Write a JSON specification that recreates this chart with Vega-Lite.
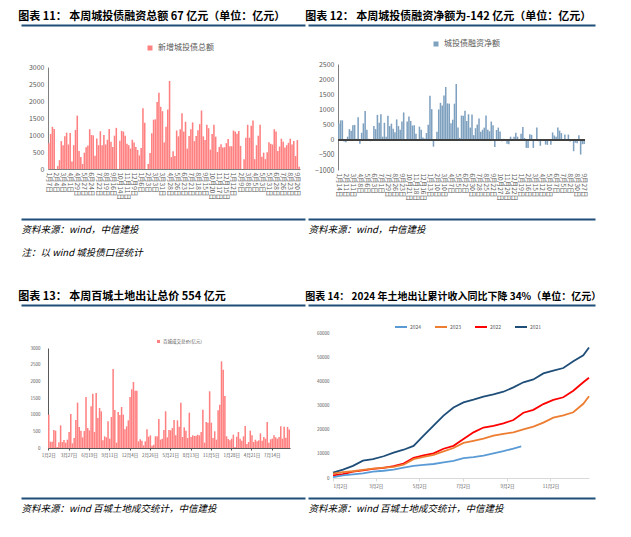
{
"$schema": "https://vega.github.io/schema/vega-lite/v6.json",
"background": "white",
"padding": {"left": 18, "top": 11, "right": 0, "bottom": 0},
"config": {
  "font": "Noto Sans CJK SC",
  "view": {"stroke": null},
  "axis": {"labelFont": "Noto Sans CJK SC", "titleFont": "Noto Sans CJK SC", "grid": false},
  "legend": {"labelFont": "Noto Sans CJK SC"},
  "title": {"anchor": "start", "fontSize": 11, "fontWeight": "bold", "font": "Noto Sans CJK SC", "color": "#000000", "offset": 3}
},
"resolve": {"scale": {"color": "independent"}, "legend": {"color": "independent"}},
"datasets": {
  "w": [
    {"d":"2022-01-07","a":760},
    {"d":"2022-01-14","a":1030,"b":530},
    {"d":"2022-01-21","a":1240,"b":640},
    {"d":"2022-01-28","a":1180,"b":640},
    {"d":"2022-02-04","a":0,"b":-60},
    {"d":"2022-02-11","a":90,"b":-80},
    {"d":"2022-02-18","a":260,"b":100},
    {"d":"2022-02-25","a":820,"b":350},
    {"d":"2022-03-04","a":700,"b":300},
    {"d":"2022-03-11","a":960,"b":480},
    {"d":"2022-03-18","a":1070,"b":490},
    {"d":"2022-03-25","a":720,"b":30},
    {"d":"2022-04-01","a":1060,"b":740},
    {"d":"2022-04-08","a":220,"b":-130},
    {"d":"2022-04-15","a":700,"b":230},
    {"d":"2022-04-22","a":1150,"b":540},
    {"d":"2022-04-29","a":1570,"b":950},
    {"d":"2022-05-06","a":530,"b":330},
    {"d":"2022-05-13","a":350,"b":30},
    {"d":"2022-05-20","a":150,"b":-50},
    {"d":"2022-05-27","a":480,"b":-40},
    {"d":"2022-06-03","a":640,"b":450},
    {"d":"2022-06-10","a":690,"b":350},
    {"d":"2022-06-17","a":1170,"b":820},
    {"d":"2022-06-24","a":1000,"b":560},
    {"d":"2022-07-01","a":990,"b":840},
    {"d":"2022-07-08","a":390,"b":100},
    {"d":"2022-07-15","a":900,"b":560},
    {"d":"2022-07-22","a":700,"b":100},
    {"d":"2022-07-29","a":1110,"b":790},
    {"d":"2022-08-05","a":700,"b":450},
    {"d":"2022-08-12","a":1000,"b":530},
    {"d":"2022-08-19","a":720,"b":360},
    {"d":"2022-08-26","a":860,"b":250},
    {"d":"2022-09-02","a":1180,"b":670},
    {"d":"2022-09-09","a":800,"b":450},
    {"d":"2022-09-16","a":650,"b":330},
    {"d":"2022-09-23","a":980,"b":600},
    {"d":"2022-09-30","a":1210,"b":900},
    {"d":"2022-10-07","a":0,"b":-20},
    {"d":"2022-10-14","a":830,"b":600},
    {"d":"2022-10-21","a":1120,"b":770},
    {"d":"2022-10-28","a":1100,"b":620},
    {"d":"2022-11-04","a":980,"b":470},
    {"d":"2022-11-11","a":740,"b":480},
    {"d":"2022-11-18","a":700,"b":200},
    {"d":"2022-11-25","a":600,"b":20},
    {"d":"2022-12-02","a":860,"b":430},
    {"d":"2022-12-09","a":780,"b":330},
    {"d":"2022-12-16","a":650,"b":70},
    {"d":"2022-12-23","a":560,"b":40},
    {"d":"2022-12-30","a":400,"b":220},
    {"d":"2023-01-06","a":620,"b":490},
    {"d":"2023-01-13","a":1790,"b":1450},
    {"d":"2023-01-20","a":1360,"b":1010},
    {"d":"2023-01-27","a":0,"b":-230},
    {"d":"2023-02-03","a":150,"b":20},
    {"d":"2023-02-10","a":470,"b":260},
    {"d":"2023-02-17","a":1050,"b":1000},
    {"d":"2023-02-24","a":1450,"b":1220},
    {"d":"2023-03-03","a":1460,"b":1130},
    {"d":"2023-03-10","a":1970,"b":1460},
    {"d":"2023-03-17","a":2240,"b":1740},
    {"d":"2023-03-24","a":1830,"b":1200},
    {"d":"2023-03-31","a":1700,"b":1190},
    {"d":"2023-04-07","a":780,"b":540},
    {"d":"2023-04-14","a":1240,"b":660},
    {"d":"2023-04-21","a":1750,"b":1190},
    {"d":"2023-04-28","a":2590,"b":1840},
    {"d":"2023-05-05","a":350,"b":400},
    {"d":"2023-05-12","a":520,"b":60},
    {"d":"2023-05-19","a":380,"b":800},
    {"d":"2023-05-26","a":1130,"b":790},
    {"d":"2023-06-02","a":960,"b":960},
    {"d":"2023-06-09","a":1170,"b":620},
    {"d":"2023-06-16","a":1640,"b":840},
    {"d":"2023-06-23","a":1100,"b":400},
    {"d":"2023-06-30","a":1390,"b":830},
    {"d":"2023-07-07","a":600,"b":150},
    {"d":"2023-07-14","a":970,"b":380},
    {"d":"2023-07-21","a":1170,"b":500},
    {"d":"2023-07-28","a":1370,"b":700},
    {"d":"2023-08-04","a":820,"b":260},
    {"d":"2023-08-11","a":970,"b":330},
    {"d":"2023-08-18","a":1140,"b":400},
    {"d":"2023-08-25","a":1320,"b":800},
    {"d":"2023-09-01","a":1720,"b":330},
    {"d":"2023-09-08","a":960,"b":280},
    {"d":"2023-09-15","a":850,"b":600},
    {"d":"2023-09-22","a":1300,"b":480},
    {"d":"2023-09-29","a":1200,"b":-240},
    {"d":"2023-10-13","a":570,"b":320},
    {"d":"2023-10-20","a":1030,"b":400},
    {"d":"2023-10-27","a":1300,"b":270},
    {"d":"2023-11-03","a":950,"b":-50},
    {"d":"2023-11-10","a":500,"b":30},
    {"d":"2023-11-17","a":650,"b":20},
    {"d":"2023-11-24","a":730,"b":-130},
    {"d":"2023-12-01","a":630,"b":-150},
    {"d":"2023-12-08","a":640,"b":100},
    {"d":"2023-12-15","a":760,"b":30},
    {"d":"2023-12-22","a":880,"b":100},
    {"d":"2023-12-29","a":670,"b":230},
    {"d":"2024-01-05","a":670,"b":100},
    {"d":"2024-01-12","a":1130,"b":20},
    {"d":"2024-01-19","a":1100,"b":200},
    {"d":"2024-01-26","a":1040,"b":420},
    {"d":"2024-02-02","a":1120,"b":60},
    {"d":"2024-02-09","a":680,"b":-270},
    {"d":"2024-02-16","a":0,"b":-270},
    {"d":"2024-02-23","a":290,"b":180},
    {"d":"2024-03-01","a":920,"b":160},
    {"d":"2024-03-08","a":1300,"b":-270},
    {"d":"2024-03-15","a":920,"b":20},
    {"d":"2024-03-22","a":1270,"b":400},
    {"d":"2024-03-29","a":1430,"b":-50},
    {"d":"2024-04-05","a":290,"b":-200},
    {"d":"2024-04-12","a":700,"b":0},
    {"d":"2024-04-19","a":980,"b":20},
    {"d":"2024-04-26","a":1300,"b":-160},
    {"d":"2024-05-03","a":360,"b":-170},
    {"d":"2024-05-10","a":480,"b":10},
    {"d":"2024-05-17","a":290,"b":-170},
    {"d":"2024-05-24","a":490,"b":240},
    {"d":"2024-05-31","a":790,"b":140},
    {"d":"2024-06-07","a":740,"b":100},
    {"d":"2024-06-14","a":720,"b":400},
    {"d":"2024-06-21","a":1170,"b":300},
    {"d":"2024-06-28","a":1100,"b":220},
    {"d":"2024-07-05","a":530,"b":20},
    {"d":"2024-07-12","a":660,"b":170},
    {"d":"2024-07-19","a":890,"b":10},
    {"d":"2024-07-26","a":800,"b":170},
    {"d":"2024-08-02","a":630,"b":-60},
    {"d":"2024-08-09","a":700,"b":20},
    {"d":"2024-08-16","a":770,"b":-380},
    {"d":"2024-08-23","a":890,"b":-100},
    {"d":"2024-08-30","a":720,"b":-120},
    {"d":"2024-09-06","a":820,"b":150},
    {"d":"2024-09-13","a":380,"b":-490},
    {"d":"2024-09-20","a":850,"b":-150},
    {"d":"2024-09-27","a":67,"b":-142}
  ],
  "land": [
    {"d":"2022-01-02","v":1000},{"d":"2022-01-09","v":190},{"d":"2022-01-16","v":190},{"d":"2022-01-23","v":540},{"d":"2022-01-30","v":520},
    {"d":"2022-02-06","v":30},{"d":"2022-02-13","v":170},{"d":"2022-02-20","v":680},{"d":"2022-02-27","v":180},{"d":"2022-03-06","v":240},
    {"d":"2022-03-13","v":160},{"d":"2022-03-20","v":250},{"d":"2022-03-27","v":480},{"d":"2022-04-03","v":1020},{"d":"2022-04-10","v":140},
    {"d":"2022-04-17","v":300},{"d":"2022-04-24","v":840},{"d":"2022-05-01","v":1360},{"d":"2022-05-08","v":630},{"d":"2022-05-15","v":520},
    {"d":"2022-05-22","v":320},{"d":"2022-05-29","v":510},{"d":"2022-06-05","v":1530},{"d":"2022-06-12","v":600},{"d":"2022-06-19","v":530},
    {"d":"2022-06-26","v":1250},{"d":"2022-07-03","v":1630},{"d":"2022-07-10","v":480},{"d":"2022-07-17","v":1650},{"d":"2022-07-24","v":900},
    {"d":"2022-07-31","v":1200},{"d":"2022-08-07","v":1100},{"d":"2022-08-14","v":230},{"d":"2022-08-21","v":350},{"d":"2022-08-28","v":320},
    {"d":"2022-09-04","v":800},{"d":"2022-09-11","v":280},{"d":"2022-09-18","v":930},{"d":"2022-09-25","v":2370},{"d":"2022-10-02","v":1140},
    {"d":"2022-10-09","v":160},{"d":"2022-10-16","v":1080},{"d":"2022-10-23","v":990},{"d":"2022-10-30","v":1230},{"d":"2022-11-06","v":1000},
    {"d":"2022-11-13","v":560},{"d":"2022-11-20","v":650},{"d":"2022-11-27","v":830},{"d":"2022-12-04","v":1530},{"d":"2022-12-11","v":1760},
    {"d":"2022-12-18","v":1980},{"d":"2022-12-25","v":1720},{"d":"2023-01-01","v":1720},{"d":"2023-01-08","v":200},{"d":"2023-01-15","v":260},
    {"d":"2023-01-22","v":220},{"d":"2023-01-29","v":80},{"d":"2023-02-05","v":200},{"d":"2023-02-12","v":560},{"d":"2023-02-19","v":340},
    {"d":"2023-02-26","v":380},{"d":"2023-03-05","v":70},{"d":"2023-03-12","v":100},{"d":"2023-03-19","v":350},{"d":"2023-03-26","v":350},
    {"d":"2023-04-02","v":870},{"d":"2023-04-09","v":250},{"d":"2023-04-16","v":280},{"d":"2023-04-23","v":540},{"d":"2023-04-30","v":1100},
    {"d":"2023-05-07","v":320},{"d":"2023-05-14","v":540},{"d":"2023-05-21","v":530},{"d":"2023-05-28","v":600},{"d":"2023-06-04","v":840},
    {"d":"2023-06-11","v":380},{"d":"2023-06-18","v":830},{"d":"2023-06-25","v":640},{"d":"2023-07-02","v":1360},{"d":"2023-07-09","v":330},
    {"d":"2023-07-16","v":620},{"d":"2023-07-23","v":520},{"d":"2023-07-30","v":300},{"d":"2023-08-06","v":1060},{"d":"2023-08-13","v":330},
    {"d":"2023-08-20","v":380},{"d":"2023-08-27","v":360},{"d":"2023-09-03","v":370},{"d":"2023-09-10","v":400},{"d":"2023-09-17","v":380},
    {"d":"2023-09-24","v":480},{"d":"2023-10-01","v":1150},{"d":"2023-10-08","v":160},{"d":"2023-10-15","v":780},{"d":"2023-10-22","v":760},
    {"d":"2023-10-29","v":1700},{"d":"2023-11-05","v":760},{"d":"2023-11-12","v":300},{"d":"2023-11-19","v":500},{"d":"2023-11-26","v":250},
    {"d":"2023-12-03","v":1130},{"d":"2023-12-10","v":1300},{"d":"2023-12-17","v":2600},{"d":"2023-12-24","v":2350},{"d":"2023-12-31","v":1560},
    {"d":"2024-01-07","v":350},{"d":"2024-01-14","v":270},{"d":"2024-01-21","v":230},{"d":"2024-01-28","v":280},{"d":"2024-02-04","v":400},
    {"d":"2024-02-11","v":30},{"d":"2024-02-18","v":340},{"d":"2024-02-25","v":480},{"d":"2024-03-03","v":280},{"d":"2024-03-10","v":220},
    {"d":"2024-03-17","v":350},{"d":"2024-03-24","v":660},{"d":"2024-03-31","v":120},{"d":"2024-04-07","v":180},{"d":"2024-04-14","v":520},
    {"d":"2024-04-21","v":380},{"d":"2024-04-28","v":180},{"d":"2024-05-05","v":250},{"d":"2024-05-12","v":200},{"d":"2024-05-19","v":230},
    {"d":"2024-05-26","v":440},{"d":"2024-06-02","v":220},{"d":"2024-06-09","v":330},{"d":"2024-06-16","v":280},{"d":"2024-06-23","v":780},
    {"d":"2024-06-30","v":160},{"d":"2024-07-07","v":260},{"d":"2024-07-14","v":280},{"d":"2024-07-21","v":380},{"d":"2024-07-28","v":320},
    {"d":"2024-08-04","v":280},{"d":"2024-08-11","v":330},{"d":"2024-08-18","v":650},{"d":"2024-08-25","v":280},{"d":"2024-09-01","v":640},
    {"d":"2024-09-08","v":310},{"d":"2024-09-15","v":630},{"d":"2024-09-22","v":554}
  ],
  "cum": [
    {"y":"2021","d":"2021-01-02","v":2200},{"y":"2021","d":"2021-01-16","v":3500},{"y":"2021","d":"2021-01-30","v":5000},{"y":"2021","d":"2021-02-13","v":7200},
    {"y":"2021","d":"2021-02-27","v":7800},{"y":"2021","d":"2021-03-13","v":9000},{"y":"2021","d":"2021-03-27","v":10500},{"y":"2021","d":"2021-04-10","v":11700},
    {"y":"2021","d":"2021-04-24","v":13300},{"y":"2021","d":"2021-05-08","v":17500},{"y":"2021","d":"2021-05-22","v":21700},{"y":"2021","d":"2021-06-05","v":25800},
    {"y":"2021","d":"2021-06-19","v":29200},{"y":"2021","d":"2021-07-03","v":31300},{"y":"2021","d":"2021-07-17","v":32400},{"y":"2021","d":"2021-07-31","v":33700},
    {"y":"2021","d":"2021-08-14","v":34600},{"y":"2021","d":"2021-08-28","v":35700},{"y":"2021","d":"2021-09-11","v":37500},{"y":"2021","d":"2021-09-25","v":39600},
    {"y":"2021","d":"2021-10-09","v":40800},{"y":"2021","d":"2021-10-23","v":43300},{"y":"2021","d":"2021-11-06","v":44400},{"y":"2021","d":"2021-11-20","v":45500},
    {"y":"2021","d":"2021-12-04","v":48300},{"y":"2021","d":"2021-12-18","v":50800},{"y":"2021","d":"2021-12-26","v":54000},
    {"y":"2022","d":"2022-01-02","v":1100},{"y":"2022","d":"2022-01-16","v":1600},{"y":"2022","d":"2022-01-30","v":2600},{"y":"2022","d":"2022-02-13","v":3200},
    {"y":"2022","d":"2022-02-27","v":3800},{"y":"2022","d":"2022-03-13","v":4200},{"y":"2022","d":"2022-03-27","v":4900},{"y":"2022","d":"2022-04-10","v":6000},
    {"y":"2022","d":"2022-04-24","v":8300},{"y":"2022","d":"2022-05-08","v":9400},{"y":"2022","d":"2022-05-22","v":10200},{"y":"2022","d":"2022-06-05","v":12100},
    {"y":"2022","d":"2022-06-19","v":13300},{"y":"2022","d":"2022-07-03","v":16100},{"y":"2022","d":"2022-07-17","v":18900},{"y":"2022","d":"2022-07-31","v":20900},
    {"y":"2022","d":"2022-08-14","v":21600},{"y":"2022","d":"2022-08-28","v":22600},{"y":"2022","d":"2022-09-11","v":24000},{"y":"2022","d":"2022-09-25","v":27000},
    {"y":"2022","d":"2022-10-09","v":28200},{"y":"2022","d":"2022-10-23","v":30600},{"y":"2022","d":"2022-11-06","v":32300},{"y":"2022","d":"2022-11-20","v":33400},
    {"y":"2022","d":"2022-12-04","v":36100},{"y":"2022","d":"2022-12-18","v":39600},{"y":"2022","d":"2022-12-26","v":41500},
    {"y":"2023","d":"2023-01-02","v":1800},{"y":"2023","d":"2023-01-16","v":2400},{"y":"2023","d":"2023-01-30","v":2800},{"y":"2023","d":"2023-02-13","v":3400},
    {"y":"2023","d":"2023-02-27","v":3900},{"y":"2023","d":"2023-03-13","v":4300},{"y":"2023","d":"2023-03-27","v":4600},{"y":"2023","d":"2023-04-10","v":5500},
    {"y":"2023","d":"2023-04-24","v":7800},{"y":"2023","d":"2023-05-08","v":8700},{"y":"2023","d":"2023-05-22","v":9600},{"y":"2023","d":"2023-06-05","v":11000},
    {"y":"2023","d":"2023-06-19","v":12400},{"y":"2023","d":"2023-07-03","v":14500},{"y":"2023","d":"2023-07-17","v":15400},{"y":"2023","d":"2023-07-31","v":16300},
    {"y":"2023","d":"2023-08-14","v":17500},{"y":"2023","d":"2023-08-28","v":18300},{"y":"2023","d":"2023-09-11","v":18900},{"y":"2023","d":"2023-09-25","v":20100},
    {"y":"2023","d":"2023-10-09","v":21300},{"y":"2023","d":"2023-10-23","v":22900},{"y":"2023","d":"2023-11-06","v":25000},{"y":"2023","d":"2023-11-20","v":25900},
    {"y":"2023","d":"2023-12-04","v":27200},{"y":"2023","d":"2023-12-18","v":30700},{"y":"2023","d":"2023-12-26","v":33800},
    {"y":"2024","d":"2024-01-02","v":400},{"y":"2024","d":"2024-01-16","v":1100},{"y":"2024","d":"2024-01-30","v":1500},{"y":"2024","d":"2024-02-13","v":1900},
    {"y":"2024","d":"2024-02-27","v":2600},{"y":"2024","d":"2024-03-13","v":3000},{"y":"2024","d":"2024-03-27","v":3500},{"y":"2024","d":"2024-04-10","v":4300},
    {"y":"2024","d":"2024-04-24","v":5000},{"y":"2024","d":"2024-05-08","v":5400},{"y":"2024","d":"2024-05-22","v":5800},{"y":"2024","d":"2024-06-05","v":6500},
    {"y":"2024","d":"2024-06-19","v":7100},{"y":"2024","d":"2024-07-03","v":8200},{"y":"2024","d":"2024-07-17","v":8600},{"y":"2024","d":"2024-07-31","v":9300},
    {"y":"2024","d":"2024-08-14","v":10200},{"y":"2024","d":"2024-08-28","v":11100},{"y":"2024","d":"2024-09-11","v":12200},{"y":"2024","d":"2024-09-22","v":13100}
  ]
},
"spacing": -27,
"hconcat": [
  {
    "spacing": 0,
    "bounds": "flush",
    "resolve": {"scale": {"color": "independent"}, "legend": {"color": "independent"}},
    "vconcat": [
      {
        "width": 252, "height": 42,
        "title": {"text": "图表 11：  本周城投债融资总额 67 亿元（单位：亿元）"},
        "data": {"values": [{"v": 0}]},
        "mark": {"type": "point", "opacity": 0},
        "encoding": {"x": {"field": "v", "type": "quantitative", "scale": {"domain": [0, 1], "range": [-27, 257]},
          "axis": {"orient": "top", "labels": false, "ticks": false, "grid": false, "title": null, "domainColor": "#1f4e79", "domainWidth": 2}}}
      },
      {
        "width": 252, "height": 102,
        "data": {"name": "w"},
        "mark": {"type": "bar"},
        "encoding": {
          "x": {"field": "d", "type": "ordinal", "scale": {"paddingInner": 0.12, "paddingOuter": 0.05},
            "axis": {"values": ["2022-01-07","2022-02-04","2022-03-04","2022-04-01","2022-04-29","2022-05-27","2022-06-24","2022-07-22","2022-08-19","2022-09-16","2022-10-14","2022-11-11","2022-12-09","2023-01-06","2023-02-03","2023-03-03","2023-03-31","2023-04-28","2023-05-26","2023-06-23","2023-07-21","2023-08-18","2023-09-15","2023-10-20","2023-11-17","2023-12-15","2024-01-12","2024-02-09","2024-03-08","2024-04-05","2024-05-03","2024-05-31","2024-06-28","2024-07-26","2024-08-23","2024-09-20"],
              "labelExpr": "utcFormat(toDate(datum.value), '%-m月%-d日')", "labelAngle": 90, "labelAlign": "left", "labelBaseline": "middle",
              "labelFontSize": 6.5, "labelColor": "#595959", "ticks": false, "domainColor": "#808080", "title": null, "labelPadding": 3}},
          "y": {"field": "a", "type": "quantitative", "scale": {"domain": [0, 3000]},
            "axis": {"values": [0, 500, 1000, 1500, 2000, 2500, 3000], "format": "d", "ticks": false, "labelFontSize": 7, "labelColor": "#595959", "domainColor": "#808080", "title": null, "labelPadding": 4}},
          "color": {"datum": "新增城投债总额", "type": "nominal", "scale": {"range": ["#ff8080"]},
            "legend": {"orient": "none", "legendX": 98, "legendY": -23, "title": null, "symbolType": "square", "symbolSize": 25, "labelFontSize": 8, "labelColor": "#595959"}}
        }
      },
      {
        "width": 252, "height": 50,
        "data": {"values": [{"v": 0}]},
        "mark": {"type": "point", "opacity": 0},
        "encoding": {"x": {"field": "v", "type": "quantitative", "scale": {"domain": [0, 1], "range": [-27, 257]},
          "axis": {"orient": "bottom", "labels": false, "ticks": false, "grid": false, "domainColor": "#1f4e79", "domainWidth": 2,
            "title": ["资料来源：wind，中信建投", "注：以 wind 城投债口径统计"], "titleAnchor": "start", "titleAlign": "left", "titleBaseline": "top",
            "titlePadding": 5, "titleFontSize": 9.5, "titleFontStyle": "italic", "titleFontWeight": "normal", "titleColor": "#000000", "titleLineHeight": 23}}}
      },
      {
        "width": 252, "height": 86,
        "data": {"values": [{"v": 0}]},
        "mark": {"type": "point", "opacity": 0},
        "encoding": {}
      },
      {
        "width": 252, "height": 43,
        "title": {"text": "图表 13：  本周百城土地出让总价 554 亿元"},
        "data": {"values": [{"v": 0}]},
        "mark": {"type": "point", "opacity": 0},
        "encoding": {"x": {"field": "v", "type": "quantitative", "scale": {"domain": [0, 1], "range": [-27, 257]},
          "axis": {"orient": "top", "labels": false, "ticks": false, "grid": false, "title": null, "domainColor": "#1f4e79", "domainWidth": 2}}}
      },
      {
        "width": 242, "height": 100,
        "data": {"name": "land"},
        "mark": {"type": "bar"},
        "encoding": {
          "x": {"field": "d", "type": "ordinal", "scale": {"paddingInner": 0.1, "paddingOuter": 0},
            "axis": {"values": ["2022-01-02","2022-03-27","2022-06-19","2022-09-11","2022-12-04","2023-02-26","2023-05-21","2023-08-13","2023-11-05","2024-01-28","2024-04-21","2024-07-14"],
              "labelExpr": "utcFormat(toDate(datum.value), '%-m月%-d日')", "labelAngle": 0, "labelFontSize": 4.5, "labelColor": "#595959",
              "ticks": true, "tickSize": 2, "tickColor": "#595959", "domainColor": "#595959", "title": null, "labelPadding": 2}},
          "y": {"field": "v", "type": "quantitative", "scale": {"domain": [0, 3000]},
            "axis": {"values": [0, 500, 1000, 1500, 2000, 2500, 3000], "format": "d", "ticks": false, "labelFontSize": 4.5, "labelColor": "#595959", "domainColor": "#595959", "title": null, "labelPadding": 8}},
          "color": {"datum": "百城成交总价(亿元)", "type": "nominal", "scale": {"range": ["#ff8080"]},
            "legend": {"orient": "none", "legendX": 108, "legendY": -9, "title": null, "symbolType": "square", "symbolSize": 9, "labelFontSize": 4.5, "labelColor": "#595959", "labelOffset": 2}}
        }
      },
      {
        "width": 252, "height": 50,
        "data": {"values": [{"v": 0}]},
        "mark": {"type": "point", "opacity": 0},
        "encoding": {"x": {"field": "v", "type": "quantitative", "scale": {"domain": [0, 1], "range": [-27, 257]},
          "axis": {"orient": "bottom", "labels": false, "ticks": false, "grid": false, "domainColor": "#1f4e79", "domainWidth": 2,
            "title": "资料来源：wind 百城土地成交统计，中信建投", "titleAnchor": "start", "titleAlign": "left", "titleBaseline": "top",
            "titlePadding": 5, "titleFontSize": 9.5, "titleFontStyle": "italic", "titleFontWeight": "normal", "titleColor": "#000000"}}}
      }
    ]
  },
  {
    "spacing": 0,
    "bounds": "flush",
    "resolve": {"scale": {"color": "independent"}, "legend": {"color": "independent"}},
    "vconcat": [
      {
        "width": 247, "height": 39,
        "title": {"text": "图表 12：  本周城投债融资净额为-142 亿元（单位：亿元）"},
        "data": {"values": [{"v": 0}]},
        "mark": {"type": "point", "opacity": 0},
        "encoding": {"x": {"field": "v", "type": "quantitative", "scale": {"domain": [0, 1], "range": [-30, 257]},
          "axis": {"orient": "top", "labels": false, "ticks": false, "grid": false, "title": null, "domainColor": "#1f4e79", "domainWidth": 2}}}
      },
      {
        "width": 247, "height": 106,
        "data": {"name": "w"},
        "transform": [{"filter": "isValid(datum.b)"}],
        "encoding": {
          "y": {"field": "b", "type": "quantitative", "scale": {"domain": [-1000, 2500]},
            "axis": {"values": [-1000, -500, 0, 500, 1000, 1500, 2000, 2500], "format": "d", "ticks": false, "labelFontSize": 7, "labelColor": "#595959", "domainColor": "#808080", "title": null, "labelPadding": 4}}
        },
        "layer": [
          {
            "mark": {"type": "bar"},
            "encoding": {
              "x": {"field": "d", "type": "ordinal", "scale": {"paddingInner": 0.12, "paddingOuter": 0.05},
                "axis": {"values": ["2022-01-14","2022-02-11","2022-03-11","2022-04-08","2022-05-06","2022-06-03","2022-07-01","2022-07-29","2022-08-26","2022-09-23","2022-10-21","2022-11-18","2022-12-16","2023-01-13","2023-02-10","2023-03-10","2023-04-07","2023-05-05","2023-06-02","2023-06-30","2023-07-28","2023-08-25","2023-09-22","2023-10-27","2023-11-24","2023-12-22","2024-01-19","2024-02-16","2024-03-15","2024-04-12","2024-05-10","2024-06-07","2024-07-05","2024-08-02","2024-08-30","2024-09-27"],
                  "labelExpr": "utcFormat(toDate(datum.value), '%-m月%-d日')", "labelAngle": 90, "labelAlign": "left", "labelBaseline": "middle",
                  "labelFontSize": 6.5, "labelColor": "#595959", "ticks": false, "domain": false, "title": null, "labelPadding": 3}},
              "color": {"datum": "城投债融资净额", "type": "nominal", "scale": {"range": ["#7fa1c0"]},
                "legend": {"orient": "none", "legendX": 94, "legendY": -24, "title": null, "symbolType": "square", "symbolSize": 25, "labelFontSize": 8, "labelColor": "#595959"}}
            }
          },
          {
            "mark": {"type": "rule", "color": "#404040", "strokeWidth": 1},
            "encoding": {"y": {"datum": 0, "type": "quantitative"}}
          }
        ]
      },
      {
        "width": 247, "height": 49,
        "data": {"values": [{"v": 0}]},
        "mark": {"type": "point", "opacity": 0},
        "encoding": {"x": {"field": "v", "type": "quantitative", "scale": {"domain": [0, 1], "range": [-30, 257]},
          "axis": {"orient": "bottom", "labels": false, "ticks": false, "grid": false, "domainColor": "#1f4e79", "domainWidth": 2,
            "title": "资料来源：wind，中信建投", "titleAnchor": "start", "titleAlign": "left", "titleBaseline": "top",
            "titlePadding": 5, "titleFontSize": 9.5, "titleFontStyle": "italic", "titleFontWeight": "normal", "titleColor": "#000000"}}}
      },
      {
        "width": 247, "height": 86,
        "data": {"values": [{"v": 0}]},
        "mark": {"type": "point", "opacity": 0},
        "encoding": {}
      },
      {
        "width": 247, "height": 28,
        "title": {"text": "图表 14：  2024 年土地出让累计收入同比下降 34%（单位：亿元）", "fontSize": 10},
        "data": {"values": [{"v": 0}]},
        "mark": {"type": "point", "opacity": 0},
        "encoding": {"x": {"field": "v", "type": "quantitative", "scale": {"domain": [0, 1], "range": [-30, 257]},
          "axis": {"orient": "top", "labels": false, "ticks": false, "grid": false, "title": null, "domainColor": "#1f4e79", "domainWidth": 2}}}
      },
      {
        "width": 251, "height": 145,
        "data": {"name": "cum"},
        "mark": {"type": "line", "strokeWidth": 1.8},
        "encoding": {
          "x": {"field": "d", "type": "temporal", "timeUnit": "utcmonthdate",
            "scale": {"domain": [{"month": 1, "date": 2, "utc": true}, {"month": 12, "date": 26, "utc": true}], "range": [-5, 251]},
            "axis": {"values": [{"month": 1, "date": 2, "utc": true}, {"month": 3, "date": 2, "utc": true}, {"month": 5, "date": 2, "utc": true}, {"month": 7, "date": 2, "utc": true}, {"month": 9, "date": 2, "utc": true}, {"month": 11, "date": 2, "utc": true}],
              "format": "%-m月%-d日", "labelFontSize": 4.5, "labelColor": "#595959", "domainColor": "#d9d9d9", "tickColor": "#d9d9d9", "tickSize": 3, "title": null, "labelPadding": 2}},
          "y": {"field": "v", "type": "quantitative", "scale": {"domain": [0, 60000]},
            "axis": {"values": [0, 10000, 20000, 30000, 40000, 50000, 60000], "format": "d", "labelFontSize": 4.5, "labelColor": "#595959", "domain": false, "ticks": false, "title": null, "offset": 5, "labelPadding": 4}},
          "color": {"field": "y", "type": "nominal", "scale": {"domain": ["2024", "2023", "2022", "2021"], "range": ["#5b9bd5", "#ed7d31", "#ff0000", "#1f4e79"]},
            "legend": {"orient": "none", "legendX": 56, "legendY": -13, "direction": "horizontal", "title": null, "symbolType": "stroke", "symbolSize": 144, "symbolStrokeWidth": 2, "labelFontSize": 5, "labelColor": "#595959", "columnPadding": 9, "labelOffset": 2}}
        }
      },
      {
        "width": 247, "height": 20,
        "data": {"values": [{"v": 0}]},
        "mark": {"type": "point", "opacity": 0},
        "encoding": {"x": {"field": "v", "type": "quantitative", "scale": {"domain": [0, 1], "range": [-30, 257]},
          "axis": {"orient": "bottom", "labels": false, "ticks": false, "grid": false, "domainColor": "#1f4e79", "domainWidth": 2,
            "title": "资料来源：wind 百城土地成交统计，中信建投", "titleAnchor": "start", "titleAlign": "left", "titleBaseline": "top",
            "titlePadding": 5, "titleFontSize": 9.5, "titleFontStyle": "italic", "titleFontWeight": "normal", "titleColor": "#000000"}}}
      }
    ]
  }
]
}
